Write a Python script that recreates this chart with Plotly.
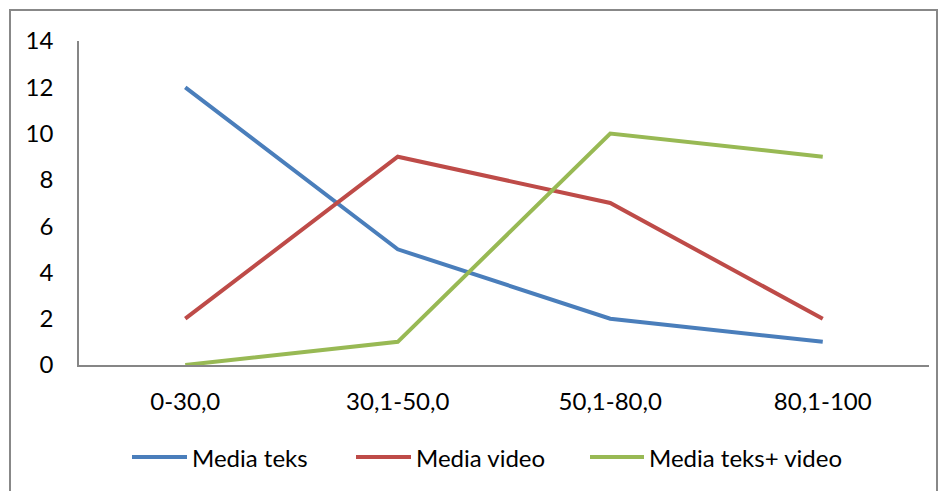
import plotly.graph_objects as go

categories = ["0-30,0", "30,1-50,0", "50,1-80,0", "80,1-100"]
media_teks = [12, 5, 2, 1]
media_video = [2, 9, 7, 2]
media_teks_video = [0, 1, 10, 9]
y_ticks = [0, 2, 4, 6, 8, 10, 12, 14]

series = [
    ("Media teks", media_teks, "#4A7EBB"),
    ("Media video", media_video, "#BE4B48"),
    ("Media teks+ video", media_teks_video, "#98B954"),
]

OFF = 8  # page body margin
W, H = 946, 491
L, R, T, B = 71, 25, 33, 134
pw, ph = W - L - R, H - T - B

def px_x(x):
    return (x - OFF - L) / pw

def px_y(y):
    return (H - B - (y - OFF)) / ph

fig = go.Figure()
for name, vals, color in series:
    fig.add_trace(go.Scatter(
        x=categories, y=vals, name=name, mode="lines",
        line=dict(color=color, width=4),
    ))

# legend drawn manually (line sample + label), positions in page pixels
legend_line_x = [(132, 187), (356, 411), (590, 644)]
legend_y = 457
shapes = [dict(
    type="rect", xref="paper", yref="paper",
    x0=px_x(10), x1=px_x(937), y0=px_y(10), y1=px_y(520),
    line=dict(color="#888888", width=2), layer="below",
)]
annotations = []
for (name, _, color), (x0, x1) in zip(series, legend_line_x):
    shapes.append(dict(
        type="line", xref="paper", yref="paper",
        x0=px_x(x0), x1=px_x(x1), y0=px_y(legend_y), y1=px_y(legend_y),
        line=dict(color=color, width=4),
    ))
    annotations.append(dict(
        xref="paper", yref="paper", x=px_x(x1 + 3), y=px_y(legend_y),
        xanchor="left", yanchor="middle", showarrow=False,
        text=name, font=dict(size=24, family="Lato", color="#000000"),
    ))

fig.update_layout(
    width=W, height=H,
    margin=dict(l=L, r=R, t=T, b=B),
    paper_bgcolor="white", plot_bgcolor="white",
    font=dict(family="Lato", size=24, color="#000000"),
    showlegend=False,
    xaxis=dict(
        type="category", range=[-0.5, 3.5],
        showline=True, linecolor="#868686", linewidth=1.5,
        showgrid=False, zeroline=False, ticks="",
        ticklabelstandoff=14,
    ),
    yaxis=dict(
        range=[0, 14], tickvals=y_ticks,
        showline=True, linecolor="#868686", linewidth=1.5,
        showgrid=False, zeroline=False, ticks="",
        ticklabelstandoff=19,
    ),
    shapes=shapes,
    annotations=annotations,
)

fig.write_html("out.html")
